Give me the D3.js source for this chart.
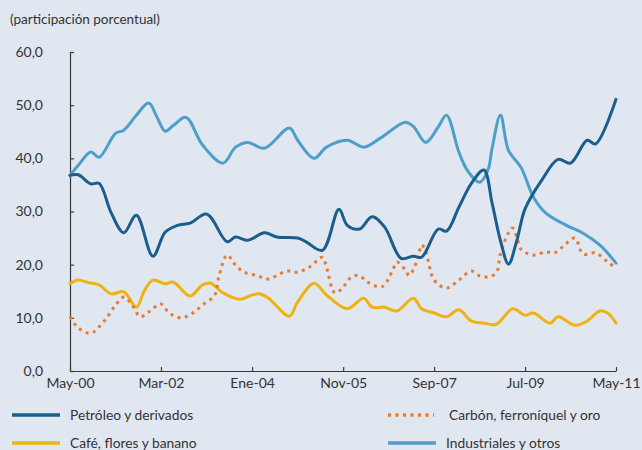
<!DOCTYPE html>
<html>
<head>
<meta charset="utf-8">
<script src="https://cdn.jsdelivr.net/npm/d3@7"></script>
<style>
  html, body { margin: 0; padding: 0; background: #e0e7f1; }
  svg { display: block; font-family: Lato, "Open Sans", sans-serif; }
</style>
</head>
<body>
<div id="chart"></div>
<script>
// meses contados desde May-00 y participación porcentual
const petroleoMes = [0, 2, 5, 7, 10, 13, 16, 20, 23, 26, 29, 33, 38, 40, 43, 47, 50, 55, 57, 61, 65, 67, 70, 73, 76, 80, 83, 85, 89, 91, 94, 97, 100, 102, 104, 106, 108, 110, 114, 118, 121, 125, 127, 132];
const petroleoVal = [36.8, 36.9, 35.2, 35.3, 29.7, 26.0, 29.3, 21.6, 26.1, 27.4, 27.8, 29.5, 24.3, 25.2, 24.6, 26.0, 25.2, 25.0, 24.3, 22.7, 30.4, 27.4, 26.7, 29.0, 27.1, 21.2, 21.6, 21.4, 26.7, 26.3, 30.8, 35.3, 37.8, 31.5, 24.5, 20.1, 24.5, 30.5, 35.9, 39.8, 39.1, 43.4, 42.7, 51.1];

const industrialesMes = [0, 2, 5, 7, 11, 13, 16, 19, 21, 23, 25, 28, 32, 37, 40, 43, 47, 53, 55, 59, 62, 67, 71, 75, 81, 83, 86, 89, 91, 94, 96, 99, 101, 102, 104, 106, 109, 112, 115, 120, 124, 128, 132];
const industrialesVal = [36.8, 38.7, 41.2, 40.2, 44.7, 45.3, 48.1, 50.4, 47.7, 45.1, 46.2, 47.7, 42.5, 39.1, 42.1, 43.0, 41.9, 45.7, 43.4, 40.0, 42.1, 43.4, 42.1, 43.8, 46.8, 46.0, 43.0, 45.9, 48.1, 41.2, 37.8, 35.5, 37.8, 42.0, 48.1, 41.5, 38.3, 32.7, 29.7, 27.4, 25.9, 23.7, 20.3];

const carbonMes = [0, 2, 5, 7, 9, 11, 13, 15, 17, 19, 22, 24, 27, 30, 32, 35, 36, 38, 40, 42, 44, 46, 48, 51, 53, 55, 58, 61, 62, 64, 66, 68, 70, 72, 75, 76, 78, 79, 81, 82, 84, 85, 86, 88, 91, 94, 97, 99, 101, 103, 104, 106, 107, 108, 109, 112, 115, 117, 119, 122, 124, 127, 130, 132];
const carbonVal = [10.2, 8.1, 7.1, 8.3, 10.2, 12.4, 13.9, 12.4, 10.2, 11.1, 12.6, 10.9, 10.0, 11.1, 12.4, 14.3, 17.7, 21.8, 19.9, 18.6, 18.2, 17.7, 17.3, 18.4, 18.8, 18.6, 19.6, 21.4, 19.5, 14.7, 15.8, 17.7, 17.9, 16.7, 15.8, 16.2, 19.0, 20.5, 19.0, 18.0, 20.9, 23.7, 22.5, 17.1, 15.6, 17.1, 18.8, 17.9, 17.7, 18.5, 22.0, 26.0, 26.9, 25.2, 22.9, 21.8, 22.4, 22.2, 23.3, 25.0, 22.0, 22.2, 20.5, 19.4];

const cafeMes = [0, 2, 4, 7, 10, 13, 16, 18, 20, 23, 25, 29, 32, 34, 37, 41, 44, 46, 48, 53, 55, 59, 62, 67, 71, 73, 76, 79, 83, 85, 88, 91, 94, 97, 100, 103, 107, 110, 112, 116, 118, 122, 125, 128, 130, 132];
const cafeVal = [16.4, 17.1, 16.7, 16.2, 14.5, 14.9, 12.0, 15.2, 17.1, 16.4, 16.7, 14.1, 16.2, 16.5, 14.7, 13.5, 14.3, 14.5, 13.7, 10.3, 13.0, 16.5, 14.3, 11.7, 13.7, 12.0, 12.0, 11.3, 13.7, 11.7, 10.9, 10.2, 11.5, 9.4, 9.0, 8.8, 11.7, 10.5, 10.9, 9.0, 10.2, 8.6, 9.4, 11.3, 10.9, 9.0];

const yTicks = [0, 10, 20, 30, 40, 50, 60];
const xTickMeses = [0, 22, 44, 66, 88, 110, 132];
const mesesEs = ["Ene", "Feb", "Mar", "Abr", "May", "Jun", "Jul", "Ago", "Sep", "Oct", "Nov", "Dic"];

const inicio = new Date(2000, 4, 1);
const fecha = m => d3.timeMonth.offset(inicio, m);

const series = [
  { nombre: "Petróleo y derivados", mes: petroleoMes, val: petroleoVal, color: "#1b5e8c", dash: null },
  { nombre: "Industriales y otros", mes: industrialesMes, val: industrialesVal, color: "#4d9fca", dash: null },
  { nombre: "Carbón, ferroníquel y oro", mes: carbonMes, val: carbonVal, color: "#ec7a2d", dash: "3,4.5" },
  { nombre: "Café, flores y banano", mes: cafeMes, val: cafeVal, color: "#efb30f", dash: null }
];

const width = 642, height = 450;
const svg = d3.select("#chart").append("svg")
  .attr("width", width)
  .attr("height", height);

const x = d3.scaleTime().domain([fecha(0), fecha(132)]).range([70, 616]);
const y = d3.scaleLinear().domain([0, 60]).range([371, 52]);

const fmt = d => mesesEs[d.getMonth()] + "-" + d3.timeFormat("%y")(d);
const fmtY = d => d.toFixed(1).replace(".", ",");

// ejes
const gy = svg.append("g")
  .attr("transform", "translate(70,0)")
  .call(d3.axisLeft(y).tickValues(yTicks).tickSizeInner(-4).tickSizeOuter(0).tickPadding(27).tickFormat(fmtY));
const gx = svg.append("g")
  .attr("transform", "translate(0,371)")
  .call(d3.axisBottom(x).tickValues(xTickMeses.map(fecha)).tickSizeInner(-4).tickSizeOuter(0).tickPadding(7).tickFormat(fmt));

[gy, gx].forEach(g => {
  g.selectAll("path, line").attr("stroke", "#3a3a3a").attr("stroke-width", 1.2);
  g.selectAll("text").attr("fill", "#333").style("font-size", "14px").style("font-family", "Lato, sans-serif");
});

svg.append("text")
  .attr("x", 10).attr("y", 24)
  .attr("fill", "#333")
  .style("font-size", "13.5px")
  .text("(participación porcentual)");

// líneas
const line = d3.line()
  .x(d => x(fecha(d[0])))
  .y(d => y(d[1]))
  .curve(d3.curveCatmullRom.alpha(0.5));

const orden = [series[3], series[2], series[1], series[0]];
orden.forEach(s => {
  svg.append("path")
    .datum(s.mes.map((m, i) => [m, s.val[i]]))
    .attr("d", line)
    .attr("fill", "none")
    .attr("stroke", s.color)
    .attr("stroke-width", 3)
    .attr("stroke-dasharray", s.dash)
    .attr("stroke-linecap", s.dash ? "butt" : "round");
});

// leyenda
const leyenda = [
  { s: series[0], lx: 12, ly: 415 },
  { s: series[2], lx: 388, ly: 415 },
  { s: series[3], lx: 12, ly: 443 },
  { s: series[1], lx: 388, ly: 443 }
];
leyenda.forEach(l => {
  svg.append("line")
    .attr("x1", l.lx).attr("x2", l.lx + (l.s.dash ? 46 : 48))
    .attr("y1", l.ly).attr("y2", l.ly)
    .attr("stroke", l.s.color)
    .attr("stroke-width", 3.5)
    .attr("stroke-dasharray", l.s.dash);
  svg.append("text")
    .attr("x", l.lx + (l.s.dash ? 61 : 58)).attr("y", l.ly)
    .attr("dy", "0.35em")
    .attr("fill", "#333")
    .style("font-size", "13.8px")
    .text(l.s.nombre);
});
</script>
</body>
</html>
